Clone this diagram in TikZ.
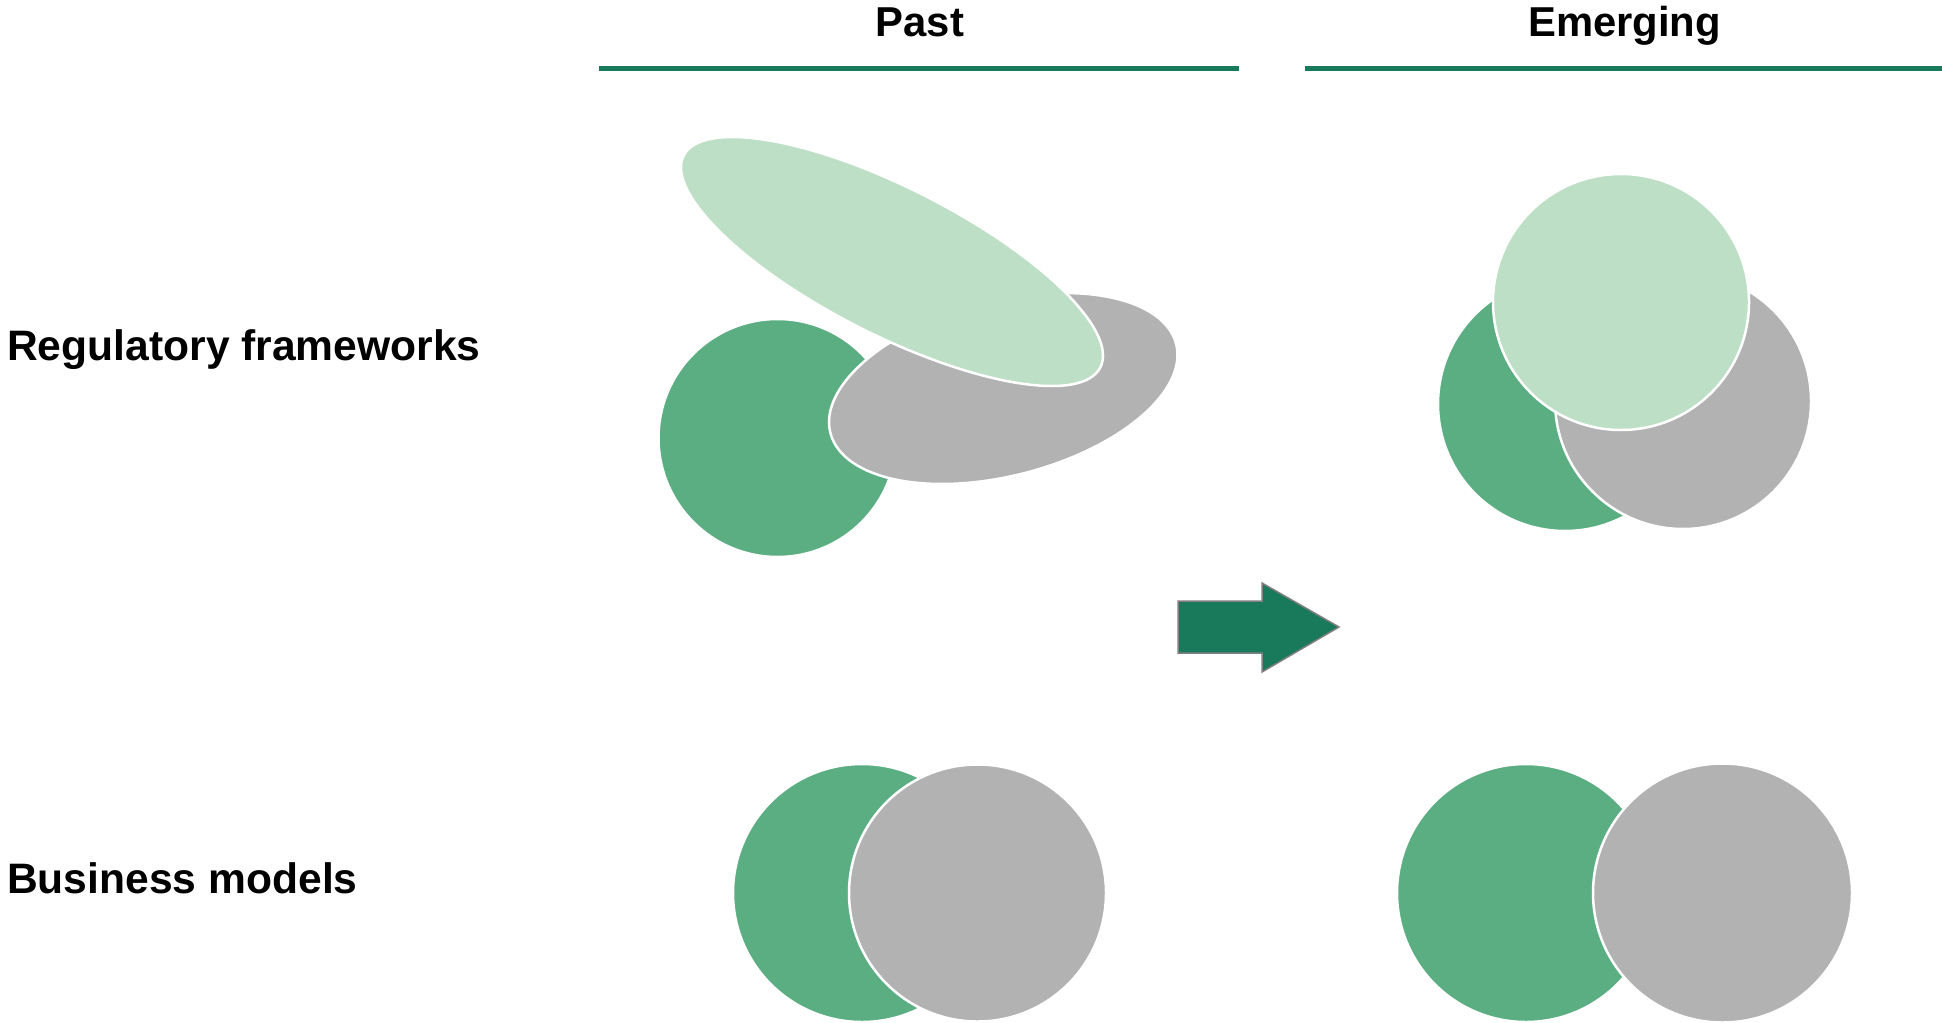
\documentclass[tikz,border=0pt]{standalone}
\usepackage{fontspec}
\setmainfont{Liberation Sans}
\usetikzlibrary{shapes.geometric}
\definecolor{dkgreen}{HTML}{5BAE82}
\definecolor{ltgreen}{HTML}{BDDFC5}
\definecolor{greyfill}{HTML}{B2B2B2}
\definecolor{linegreen}{HTML}{187A5A}
\definecolor{arrowedge}{HTML}{808080}
\tikzset{
  blob/.style={draw=white, line width=2.5pt, inner sep=0pt, outer sep=0pt},
  disc/.style={blob, circle, minimum size=#1},
  oval/.style={blob, ellipse},
  rowlabel/.style={font=\bfseries\fontsize{42.6}{50}\selectfont, anchor=base west, inner sep=0pt},
  colhead/.style={font=\bfseries\fontsize{41.8}{48}\selectfont, anchor=base, inner sep=0pt},
  headline/.style={draw=linegreen, line width=4.5pt},
  bigarrow/.style={fill=linegreen, draw=arrowedge, line width=1.5pt, line join=miter}
}
\begin{document}
\begin{tikzpicture}[x=1pt, y=-1pt]
\useasboundingbox (0,0) rectangle (1942,1022);
% headers
\node[colhead] (past) at (920,37) {Past};
\node[colhead] (emerging) at (1624.5,37) {Emerging};
\coordinate (l1a) at (599,68.5);
\coordinate (l1b) at (1238.5,68.5);
\coordinate (l2a) at (1305,68.5);
\coordinate (l2b) at (1942,68.5);
\draw[headline] (l1a) -- (l1b);
\draw[headline] (l2a) -- (l2b);
% row labels
\node[rowlabel] (reg) at (7,360) {Regulatory frameworks};
\node[rowlabel] (bus) at (7,893) {Business models};
% Past, regulatory
\node[disc=238pt, fill=dkgreen] (pr1) at (777.5,438) {};
\node[oval, fill=greyfill, minimum width=357pt, minimum height=174.4pt, rotate=14.45] (pr2) at (1003.25,388.5) {};
\node[oval, fill=ltgreen, minimum width=467.4pt, minimum height=147pt, rotate=-26.93] (pr3) at (892,261.5) {};
% Emerging, regulatory
\node[disc=254pt, fill=dkgreen] (er1) at (1565,404) {};
\node[disc=256pt, fill=greyfill] (er2) at (1683,401) {};
\node[disc=256pt, fill=ltgreen] (er3) at (1621,302) {};
% Past, business
\node[disc=258pt, fill=dkgreen] (pb1) at (862,893) {};
\node[disc=257pt, fill=greyfill] (pb2) at (977.5,893) {};
% Emerging, business
\node[disc=258pt, fill=dkgreen] (eb1) at (1526,893) {};
\node[disc=259pt, fill=greyfill] (eb2) at (1722.5,893) {};
% arrow
\draw[bigarrow] (1178,601) -- (1262,601) -- (1262,583) -- (1339,627) -- (1262,672) -- (1262,653) -- (1178,653) -- cycle;
\end{tikzpicture}
\end{document}
